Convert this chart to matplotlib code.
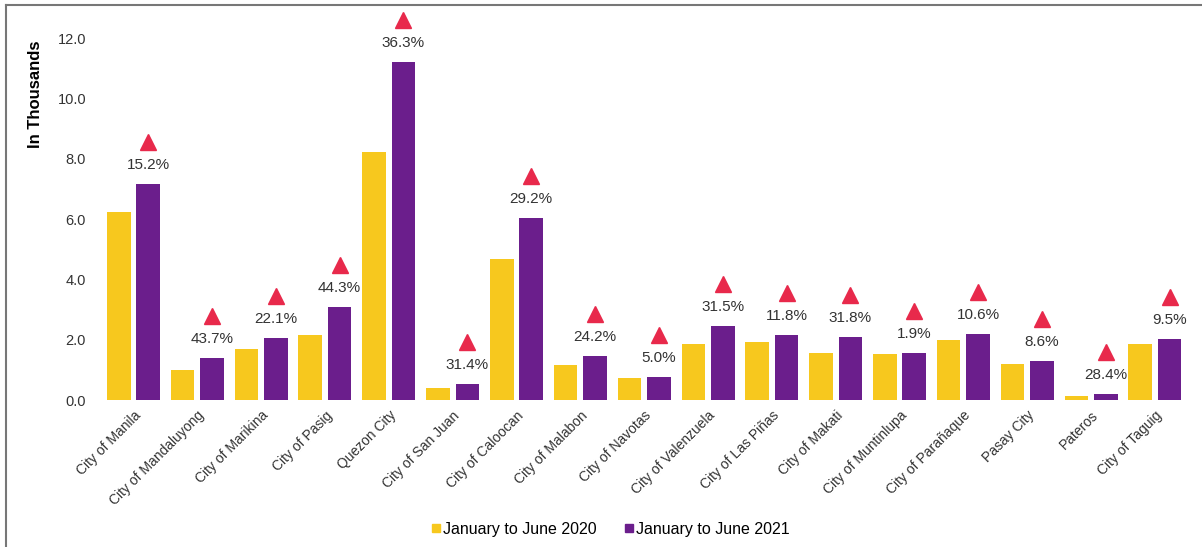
import matplotlib.pyplot as plt
from matplotlib.lines import Line2D
from matplotlib.transforms import offset_copy
import numpy as np

plt.rcParams['font.family'] = ['Liberation Sans', 'DejaVu Sans']

# Data (in thousands)
cities = [
    "City of Manila", "City of Mandaluyong", "City of Marikina", "City of Pasig",
    "Quezon City", "City of San Juan", "City of Caloocan", "City of Malabon",
    "City of Navotas", "City of Valenzuela", "City of Las Piñas", "City of Makati",
    "City of Muntinlupa", "City of Parañaque", "Pasay City", "Pateros", "City of Taguig"
]
jan_jun_2020 = [6.22, 0.99, 1.69, 2.15, 8.22, 0.40, 4.67, 1.16, 0.73, 1.86,
                1.92, 1.56, 1.52, 1.99, 1.19, 0.14, 1.86]
jan_jun_2021 = [7.16, 1.39, 2.05, 3.08, 11.20, 0.53, 6.03, 1.46, 0.76, 2.45,
                2.15, 2.09, 1.55, 2.20, 1.29, 0.20, 2.02]
pct_change = ["15.2%", "43.7%", "22.1%", "44.3%", "36.3%", "31.4%", "29.2%", "24.2%",
              "5.0%", "31.5%", "11.8%", "31.8%", "1.9%", "10.6%", "8.6%", "28.4%", "9.5%"]

yellow = "#F7C81E"
purple = "#6B1E8C"
red = "#E8294B"

fig = plt.figure(figsize=(12.02, 5.47), dpi=100)
ax = fig.add_axes([100 / 1202, 1 - 400 / 547, 1090 / 1202, 380 / 547])

x = np.arange(len(cities))
w = 0.37
ax.bar(x - 0.23, jan_jun_2020, w, color=yellow)
ax.bar(x + 0.23, jan_jun_2021, w, color=purple)

# change labels and triangles above the 2021 bars
tri_tr = offset_copy(ax.transData, fig=fig, y=42, units='dots')
ax.plot(x + 0.23, jan_jun_2021, linestyle='none', marker='^', markersize=11,
        color=red, transform=tri_tr, clip_on=False)
for xi, v, p in zip(x, jan_jun_2021, pct_change):
    ax.annotate(p, (xi + 0.23, v), xytext=(0, 19), textcoords='offset pixels',
                ha='center', va='center', fontsize=11, color='#333333')

ax.set_xlim(-0.524, 16.55)
ax.set_ylim(0, 12.6)
ax.set_yticks(np.arange(0, 12.1, 2.0))
ax.set_yticklabels([f"{t:.1f}" for t in np.arange(0, 12.1, 2.0)], fontsize=10.5, color='#333333')
ax.set_xticks(x)
ax.set_xticklabels(cities, rotation=45, ha='right', rotation_mode='anchor',
                   fontsize=10, color='#333333')
ax.tick_params(axis='both', length=0)
ax.tick_params(axis='y', pad=10)
ax.tick_params(axis='x', pad=6)
for s in ax.spines.values():
    s.set_visible(False)

fig.text(35 / 1202, 1 - 94 / 547, "In Thousands", rotation=90, ha='center', va='center',
         fontsize=12, fontweight='bold')

handles = [
    Line2D([], [], linestyle='none', marker='s', markersize=6, color=yellow),
    Line2D([], [], linestyle='none', marker='s', markersize=6, color=purple),
]
fig.legend(handles, ["January to June 2020", "January to June 2021"],
           loc='center', bbox_to_anchor=(0.507, 0.032), ncol=2, frameon=False,
           fontsize=11.5, handletextpad=0.05, columnspacing=1.6, handlelength=0.8)

# border of the original panel
fig.add_artist(Line2D([6 / 1202, 1.0], [1 - 5 / 547, 1 - 5 / 547],
                      transform=fig.transFigure, color='#777777', linewidth=1.5))
fig.add_artist(Line2D([6 / 1202, 6 / 1202], [0.0, 1 - 5 / 547],
                      transform=fig.transFigure, color='#777777', linewidth=1.5))

fig.savefig("out.png", dpi=100)
